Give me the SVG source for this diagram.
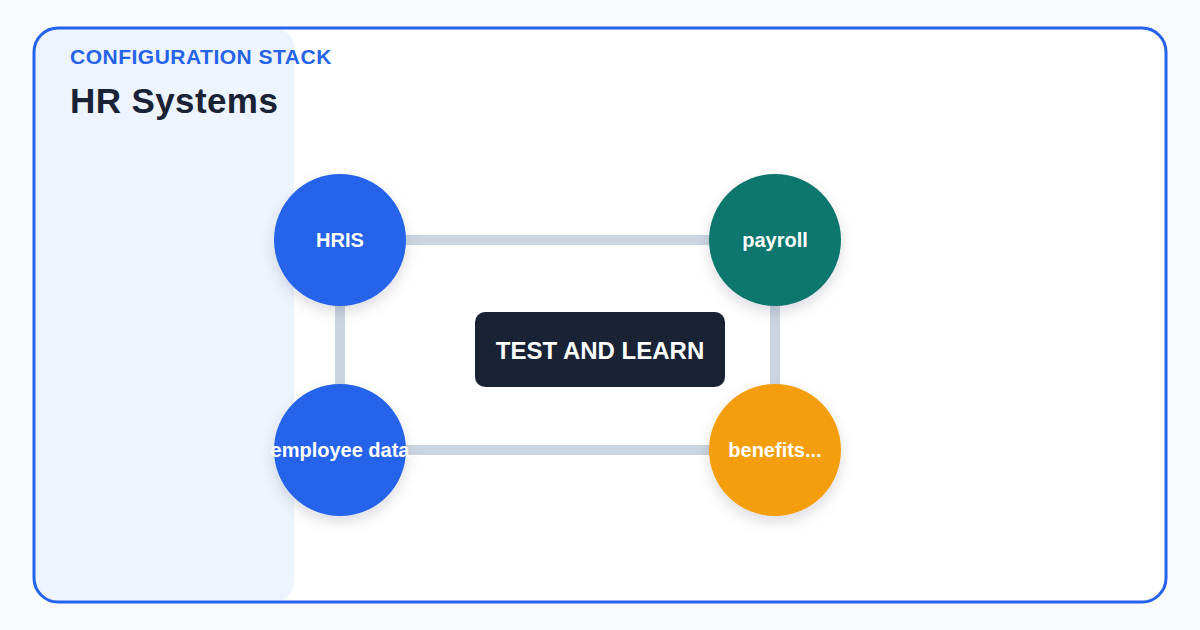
<svg xmlns="http://www.w3.org/2000/svg" width="1200" height="630" viewBox="0 0 1200 630">
<defs>
<filter id="sh" x="-30%" y="-30%" width="160%" height="170%">
<feDropShadow dx="0" dy="6" stdDeviation="7" flood-color="#0f172a" flood-opacity="0.14"/>
</filter>
<clipPath id="cardClip"><rect x="34" y="28" width="1132" height="574" rx="24"/></clipPath>
</defs>
<style>
.edge{stroke:#cbd5e1;stroke-width:10;fill:none}
.lbl{font-family:"Liberation Sans",Arial,sans-serif;font-weight:bold;font-size:20px;fill:#ffffff;text-anchor:middle}
</style>
<rect x="0" y="0" width="1200" height="630" fill="#f8fafc"/>
<rect x="34" y="28" width="1132" height="574" rx="24" fill="#ffffff"/>
<rect x="34" y="28" width="260" height="574" rx="20" fill="#eef4fe" clip-path="url(#cardClip)"/>
<rect x="34" y="28" width="1132" height="574" rx="24" fill="none" stroke="#2563eb" stroke-width="3"/>
<text x="70" y="64" font-family="Liberation Sans,Arial,sans-serif" font-weight="bold" font-size="21" letter-spacing="0.5" fill="#2563eb">CONFIGURATION STACK</text>
<text x="70" y="113" font-family="Liberation Sans,Arial,sans-serif" font-weight="bold" font-size="35" letter-spacing="0.4" fill="#1a2236">HR Systems</text>
<g id="connectors">
<line class="edge" x1="340" y1="240" x2="775" y2="240"/>
<line class="edge" x1="340" y1="240" x2="340" y2="450"/>
<line class="edge" x1="775" y1="240" x2="775" y2="450"/>
<line class="edge" x1="340" y1="450" x2="775" y2="450"/>
</g>
<g id="center">
<rect x="475" y="312" width="250" height="75" rx="10" fill="#1a2236"/>
<text x="600" y="359" font-family="Liberation Sans,Arial,sans-serif" font-weight="bold" font-size="24" fill="#ffffff" text-anchor="middle">TEST AND LEARN</text>
</g>
<g id="hris">
<circle cx="340" cy="240" r="66" fill="#2563eb" filter="url(#sh)"/>
<text class="lbl" x="340" y="247">HRIS</text>
</g>
<g id="payroll">
<circle cx="775" cy="240" r="66" fill="#0f766e" filter="url(#sh)"/>
<text class="lbl" x="775" y="247">payroll</text>
</g>
<g id="employee-data">
<circle cx="340" cy="450" r="66" fill="#2563eb" filter="url(#sh)"/>
<text class="lbl" x="340" y="457">employee data</text>
</g>
<g id="benefits">
<circle cx="775" cy="450" r="66" fill="#f59e0b" filter="url(#sh)"/>
<text class="lbl" x="775" y="457">benefits...</text>
</g>
</svg>
